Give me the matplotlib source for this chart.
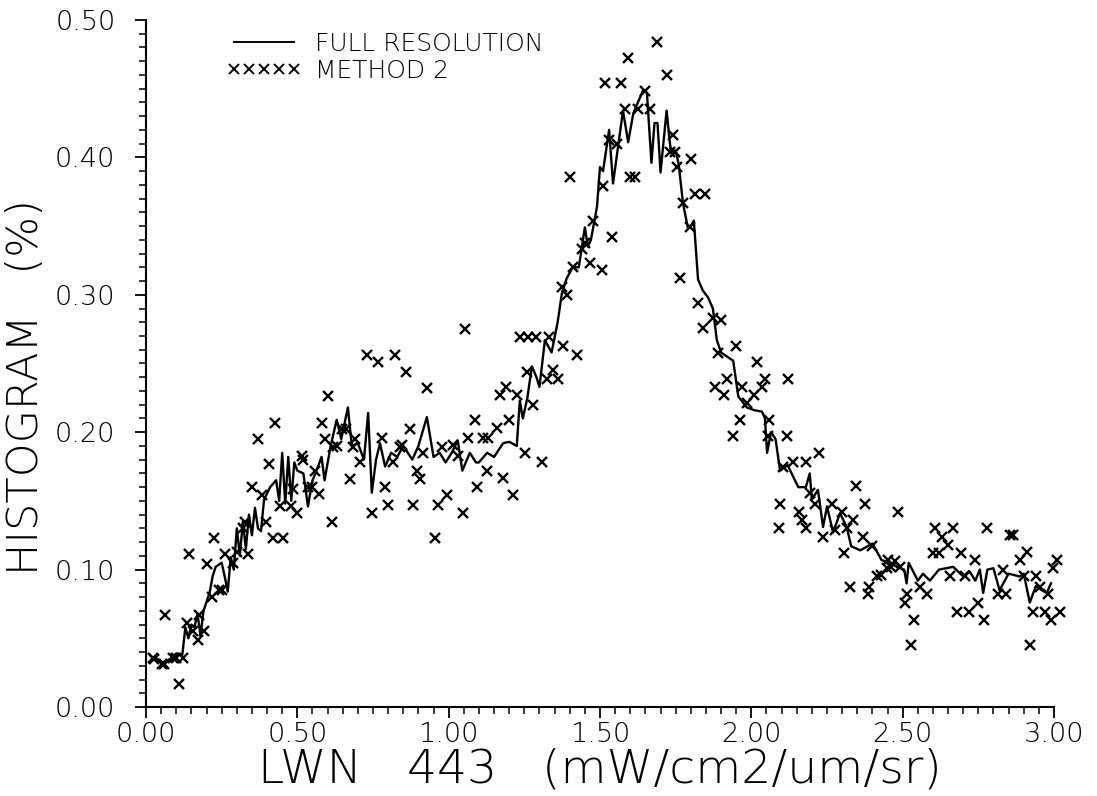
import matplotlib
matplotlib.use("Agg")
import matplotlib.pyplot as plt
from matplotlib.lines import Line2D
from matplotlib.ticker import MultipleLocator, FormatStrFormatter

# Full resolution histogram (line)
full_x = [0.03, 0.05, 0.06, 0.08, 0.10, 0.12, 0.13, 0.14, 0.15, 0.16, 0.17, 0.18, 0.19, 0.21, 0.22,
          0.23, 0.25, 0.26, 0.27, 0.28, 0.29, 0.30, 0.31, 0.32, 0.33, 0.34, 0.35, 0.36, 0.37, 0.38,
          0.39, 0.41, 0.43, 0.44, 0.45, 0.46, 0.47, 0.48, 0.49, 0.50, 0.52, 0.535, 0.55, 0.56, 0.58,
          0.59, 0.61, 0.63, 0.645, 0.667, 0.68, 0.70, 0.72, 0.734, 0.746, 0.76, 0.773, 0.79, 0.81,
          0.83, 0.85, 0.88, 0.90, 0.928, 0.95, 0.97, 0.99, 1.01, 1.03, 1.045, 1.07, 1.09, 1.10,
          1.127, 1.15, 1.18, 1.20, 1.225, 1.235, 1.245, 1.26, 1.275, 1.29, 1.30, 1.318, 1.33, 1.34,
          1.36, 1.374, 1.39, 1.41, 1.43, 1.45, 1.46, 1.47, 1.49, 1.50, 1.51, 1.53, 1.543, 1.56,
          1.576, 1.593, 1.61, 1.625, 1.643, 1.655, 1.67, 1.68, 1.69, 1.70, 1.72, 1.734, 1.75, 1.76,
          1.774, 1.79, 1.80, 1.81, 1.824, 1.84, 1.857, 1.873, 1.886, 1.90, 1.92, 1.94, 1.957, 1.985,
          2.01, 2.035, 2.045, 2.052, 2.065, 2.08, 2.095, 2.12, 2.155, 2.18, 2.193, 2.20, 2.22, 2.237,
          2.25, 2.27, 2.293, 2.315, 2.33, 2.36, 2.40, 2.43, 2.458, 2.48, 2.505, 2.513, 2.52, 2.55,
          2.567, 2.59, 2.62, 2.667, 2.70, 2.72, 2.74, 2.755, 2.766, 2.78, 2.80, 2.82, 2.85, 2.887,
          2.90, 2.92, 2.94, 2.96, 2.976, 2.99]
full_y = [0.036, 0.033, 0.031, 0.035, 0.039, 0.038, 0.058, 0.050, 0.060, 0.058, 0.068, 0.052, 0.070, 0.083, 0.095,
          0.102, 0.105, 0.095, 0.084, 0.109, 0.100, 0.130, 0.110, 0.135, 0.115, 0.140, 0.125, 0.145, 0.130, 0.128,
          0.151, 0.160, 0.165, 0.150, 0.185, 0.148, 0.182, 0.150, 0.178, 0.172, 0.170, 0.146, 0.165, 0.170, 0.182,
          0.165, 0.190, 0.209, 0.195, 0.218, 0.190, 0.192, 0.180, 0.214, 0.156, 0.180, 0.192, 0.175, 0.185,
          0.182, 0.190, 0.180, 0.190, 0.211, 0.182, 0.185, 0.178, 0.185, 0.194, 0.172, 0.185, 0.178, 0.178,
          0.185, 0.182, 0.192, 0.193, 0.190, 0.223, 0.210, 0.225, 0.248, 0.240, 0.233, 0.267, 0.262, 0.258,
          0.280, 0.301, 0.312, 0.320, 0.320, 0.349, 0.335, 0.340, 0.364, 0.393, 0.390, 0.420, 0.381, 0.408,
          0.434, 0.411, 0.432, 0.440, 0.449, 0.447, 0.396, 0.425, 0.425, 0.389, 0.434, 0.404, 0.405, 0.395,
          0.367, 0.349, 0.350, 0.354, 0.311, 0.303, 0.298, 0.290, 0.267, 0.258, 0.255, 0.252, 0.226, 0.218,
          0.216, 0.215, 0.210, 0.185, 0.200, 0.195, 0.172, 0.176, 0.160, 0.160, 0.170, 0.151, 0.158, 0.131,
          0.146, 0.127, 0.141, 0.131, 0.117, 0.114, 0.119, 0.107, 0.105, 0.102, 0.100, 0.090, 0.105, 0.092,
          0.097, 0.092, 0.100, 0.102, 0.095, 0.099, 0.092, 0.100, 0.083, 0.100, 0.101, 0.085, 0.097, 0.095,
          0.097, 0.076, 0.088, 0.085, 0.083, 0.090]

# Method 2 (crosses)
m2_x = [0.023, 0.028, 0.052, 0.06, 0.063, 0.09, 0.10, 0.11, 0.123, 0.135, 0.143, 0.156, 0.171, 0.175, 0.19,
        0.20, 0.218, 0.224, 0.242, 0.25, 0.261, 0.287, 0.30, 0.32, 0.327, 0.338, 0.35, 0.37, 0.383, 0.396,
        0.407, 0.42, 0.426, 0.443, 0.453, 0.48, 0.486, 0.50, 0.514, 0.52, 0.535, 0.55, 0.558, 0.572, 0.58,
        0.59, 0.60, 0.614, 0.617, 0.63, 0.647, 0.66, 0.675, 0.685, 0.69, 0.707, 0.73, 0.747, 0.767, 0.78,
        0.79, 0.80, 0.817, 0.823, 0.84, 0.845, 0.86, 0.872, 0.882, 0.894, 0.905, 0.915, 0.928, 0.955, 0.965,
        0.977, 0.993, 1.015, 1.03, 1.048, 1.054, 1.064, 1.087, 1.093, 1.114, 1.127, 1.13, 1.16, 1.17, 1.18,
        1.19, 1.20, 1.213, 1.225, 1.236, 1.252, 1.26, 1.262, 1.28, 1.29, 1.31, 1.325, 1.33, 1.345, 1.36,
        1.374, 1.378, 1.39, 1.40, 1.41, 1.424, 1.44, 1.45, 1.467, 1.478, 1.506, 1.51, 1.515, 1.53, 1.54,
        1.556, 1.57, 1.583, 1.594, 1.60, 1.615, 1.625, 1.648, 1.665, 1.687, 1.72, 1.73, 1.74, 1.748, 1.754,
        1.764, 1.774, 1.797, 1.80, 1.814, 1.824, 1.84, 1.847, 1.873, 1.88, 1.89, 1.90, 1.91, 1.92, 1.94,
        1.95, 1.962, 1.97, 1.985, 2.01, 2.02, 2.034, 2.045, 2.055, 2.06, 2.09, 2.095, 2.105, 2.117, 2.12,
        2.138, 2.157, 2.167, 2.18, 2.18, 2.195, 2.21, 2.224, 2.237, 2.266, 2.276, 2.30, 2.306, 2.316, 2.326,
        2.336, 2.345, 2.368, 2.375, 2.386, 2.39, 2.40, 2.415, 2.43, 2.447, 2.45, 2.463, 2.475, 2.485, 2.49,
        2.507, 2.513, 2.527, 2.537, 2.557, 2.58, 2.60, 2.607, 2.62, 2.63, 2.65, 2.656, 2.667, 2.68, 2.692,
        2.706, 2.72, 2.74, 2.75, 2.77, 2.78, 2.815, 2.83, 2.843, 2.855, 2.865, 2.887, 2.90, 2.91, 2.92,
        2.93, 2.94, 2.953, 2.97, 2.98, 2.99, 2.997, 3.01, 3.02]
m2_y = [0.036, 0.035, 0.031, 0.031, 0.067, 0.036, 0.036, 0.017, 0.036, 0.061, 0.111, 0.055, 0.049, 0.067, 0.055,
        0.104, 0.080, 0.123, 0.085, 0.085, 0.111, 0.105, 0.113, 0.130, 0.135, 0.111, 0.160, 0.195, 0.154, 0.135,
        0.177, 0.123, 0.207, 0.146, 0.123, 0.146, 0.159, 0.141, 0.183, 0.180, 0.160, 0.160, 0.172, 0.155, 0.207,
        0.195, 0.226, 0.135, 0.189, 0.190, 0.202, 0.202, 0.166, 0.189, 0.195, 0.178, 0.256, 0.141, 0.251, 0.196,
        0.160, 0.147, 0.178, 0.256, 0.189, 0.191, 0.244, 0.202, 0.147, 0.172, 0.166, 0.185, 0.232, 0.123, 0.147,
        0.189, 0.154, 0.191, 0.183, 0.141, 0.275, 0.196, 0.209, 0.160, 0.196, 0.172, 0.196, 0.203, 0.227, 0.167,
        0.233, 0.209, 0.154, 0.227, 0.269, 0.185, 0.244, 0.269, 0.220, 0.269, 0.178, 0.239, 0.269, 0.245, 0.239,
        0.306, 0.263, 0.300, 0.386, 0.320, 0.256, 0.333, 0.338, 0.323, 0.354, 0.318, 0.379, 0.454, 0.413, 0.342,
        0.410, 0.454, 0.435, 0.472, 0.386, 0.386, 0.435, 0.448, 0.435, 0.484, 0.460, 0.404, 0.416, 0.404, 0.393,
        0.312, 0.367, 0.349, 0.399, 0.373, 0.294, 0.276, 0.373, 0.283, 0.233, 0.258, 0.282, 0.227, 0.239, 0.197,
        0.263, 0.209, 0.233, 0.221, 0.227, 0.251, 0.233, 0.239, 0.197, 0.209, 0.130, 0.148, 0.175, 0.197, 0.239,
        0.178, 0.142, 0.136, 0.130, 0.178, 0.156, 0.148, 0.185, 0.124, 0.148, 0.129, 0.142, 0.112, 0.130, 0.087,
        0.136, 0.161, 0.124, 0.148, 0.082, 0.087, 0.117, 0.095, 0.096, 0.101, 0.107, 0.102, 0.106, 0.142, 0.102,
        0.076, 0.082, 0.045, 0.063, 0.087, 0.082, 0.112, 0.130, 0.112, 0.124, 0.118, 0.095, 0.130, 0.069, 0.112,
        0.095, 0.069, 0.107, 0.076, 0.063, 0.130, 0.082, 0.100, 0.082, 0.125, 0.125, 0.107, 0.095, 0.113, 0.045,
        0.069, 0.095, 0.087, 0.069, 0.082, 0.063, 0.101, 0.107, 0.069]

x_ticks = [0.0, 0.5, 1.0, 1.5, 2.0, 2.5, 3.0]
y_ticks = [0.0, 0.1, 0.2, 0.3, 0.4, 0.5]

plt.rcParams['font.family'] = ['DejaVu Sans']
fig = plt.figure(figsize=(10.97, 7.96), dpi=100)
ax = fig.add_axes([0.1331, 0.1118, 0.8277, 0.8631])

ax.plot(full_x, full_y, color='black', lw=1.7, label='FULL RESOLUTION')
ax.plot(m2_x, m2_y, linestyle='none', marker='x', color='black', ms=7.5, mew=1.7,
        clip_on=False, label='METHOD 2')

ax.set_xlim(0, 3.0)
ax.set_ylim(0, 0.5)
ax.set_xticks(x_ticks)
ax.set_yticks(y_ticks)
ax.xaxis.set_minor_locator(MultipleLocator(0.05))
ax.yaxis.set_minor_locator(MultipleLocator(0.01))
ax.xaxis.set_major_formatter(FormatStrFormatter('%.2f'))
ax.yaxis.set_major_formatter(FormatStrFormatter('%.2f'))

for s in ['top', 'right']:
    ax.spines[s].set_visible(False)
for s in ['left', 'bottom']:
    ax.spines[s].set_linewidth(1.5)

ax.tick_params(which='major', direction='out', length=8, width=1.3, labelsize=19.5)
ax.tick_params(axis='y', which='major', pad=14)
ax.tick_params(axis='x', which='major', pad=3)
ax.tick_params(which='minor', direction='out', length=5, width=1.1)
for lab in ax.get_xticklabels() + ax.get_yticklabels():
    lab.set_fontweight('light')

ax.set_xlabel('LWN   443   (mW/cm2/um/sr)', fontsize=34, fontweight='light', labelpad=0)
ax.set_ylabel('HISTOGRAM   (%)', fontsize=31, fontweight='light', labelpad=6)
ax.yaxis.set_label_coords(-0.11, 0.466)

handles = [Line2D([], [], color='black', lw=1.4),
           Line2D([], [], linestyle='none', marker='x', color='black', ms=6.5, mew=1.4)]
leg = ax.legend(handles, ['FULL RESOLUTION', 'METHOD 2'], loc='upper left',
                bbox_to_anchor=(0.064, 1.015), frameon=False, numpoints=5,
                handlelength=3.0, handletextpad=0.55, labelspacing=0.12,
                prop={'size': 18, 'weight': 'light'})

fig.savefig('out.png', dpi=100)
